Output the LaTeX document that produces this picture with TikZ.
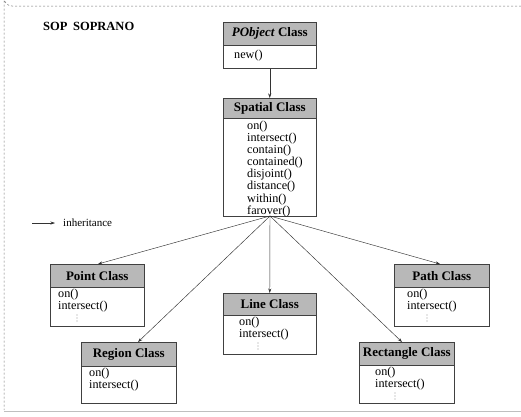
\documentclass[tikz,border=0pt]{standalone}
\usepackage{fontspec}
\setmainfont{Liberation Serif}
\usetikzlibrary{arrows.meta}
\begin{document}
\begin{tikzpicture}[x=1pt,y=-1pt,
  hdr/.style={draw=black!75, line width=0.5pt, fill=black!28, anchor=north west, inner sep=0pt,
    font=\fontsize{13}{13}\selectfont\bfseries},
  bodybox/.style={draw=black!75, line width=0.5pt, anchor=north west, inner sep=0pt},
  meth/.style={anchor=north west, inner sep=0pt, align=left, font=\fontsize{12.2}{11}\selectfont},
  inh/.style={draw=black!80, line width=0.45pt, -{Stealth[length=4.5pt,width=3pt]}},
  frame/.style={draw=black!55, line width=0.5pt, dash pattern=on 2pt off 2pt},
  vdot/.style={fill=black!40, inner sep=0pt, minimum size=1.3pt, circle}
]
\useasboundingbox (0,0) rectangle (521,416);
% outer frame
\draw[frame] (521,6) -- (12,6) arc[start angle=90, end angle=180, radius=8] -- (4,410);
\draw[draw=black!25, line width=0.4pt] (4,411) -- (521,411);

% title
\node[anchor=west, inner sep=0pt, font=\fontsize{12.5}{13}\selectfont\bfseries] (title) at (43,26) {SOP\hspace{0.45em}SOPRANO};

% PObject
\node[hdr, minimum width=93pt, minimum height=23pt] (pobjH) at (223,22) {\textit{PObject} Class};
\node[bodybox, minimum width=93pt, minimum height=23pt] (pobj) at (223,45) {};
\node[meth] (pobjM) at (234,50) {new()};

% Spatial
\node[hdr, minimum width=93pt, minimum height=20pt] (spatH) at (223,98) {Spatial Class};
\node[bodybox, minimum width=93pt, minimum height=98pt] (spat) at (223,118) {};
\node[meth] (spatM) at (247,121) {on()\\intersect()\\contain()\\contained()\\disjoint()\\distance()\\within()\\farover()};

% Point
\node[hdr, minimum width=94pt, minimum height=23pt] (ptH) at (50,264) {Point Class};
\node[bodybox, minimum width=94pt, minimum height=39pt] (pt) at (50,287) {};
\node[meth] (ptM) at (58,289) {on()\\intersect()};

% Region
\node[hdr, minimum width=95pt, minimum height=24pt] (rgH) at (81,342) {Region Class};
\node[bodybox, minimum width=95pt, minimum height=37pt] (rg) at (81,366) {};
\node[meth] (rgM) at (89,368) {on()\\intersect()};

% Line
\node[hdr, minimum width=93pt, minimum height=22pt] (lnH) at (223,293) {Line Class};
\node[bodybox, minimum width=93pt, minimum height=39pt] (ln) at (223,315) {};
\node[meth] (lnM) at (239,317) {on()\\intersect()};

% Path
\node[hdr, minimum width=95pt, minimum height=23pt] (paH) at (394,264) {Path Class};
\node[bodybox, minimum width=95pt, minimum height=39pt] (pa) at (394,287) {};
\node[meth] (paM) at (407,289) {on()\\intersect()};

% Rectangle
\node[hdr, minimum width=95pt, minimum height=23pt] (reH) at (359,342) {Rectangle Class};
\node[bodybox, minimum width=95pt, minimum height=38pt] (re) at (359,365) {};
\node[meth] (reM) at (375,367) {on()\\intersect()};

% vertical dots
\foreach \x/\y in {77/315, 258/343, 427/315, 395/393}{
  \node[vdot] at (\x,\y) {};
  \node[vdot] at (\x,\y+3) {};
  \node[vdot] at (\x,\y+6) {};
}

% inheritance arrows
\coordinate (fan) at (270,216);
\draw[inh] (pobj.south) -- (spatH.north);
\draw[inh] (fan) -- (ptH.north -| 98,0);
\draw[inh] (fan) -- (rgH.north -| 138,0);
\draw[inh] (fan) -- (lnH.north);
\draw[inh] (fan) -- (paH.north -| 440,0);
\draw[inh] (fan) -- (reH.north -| 402,0);

% legend
\coordinate (legA) at (32,223);
\node[anchor=west, inner sep=0pt, font=\fontsize{11}{11}\selectfont] (legT) at (63,223) {inheritance};
\draw[inh] (legA) -- (55,223);
\end{tikzpicture}
\end{document}
